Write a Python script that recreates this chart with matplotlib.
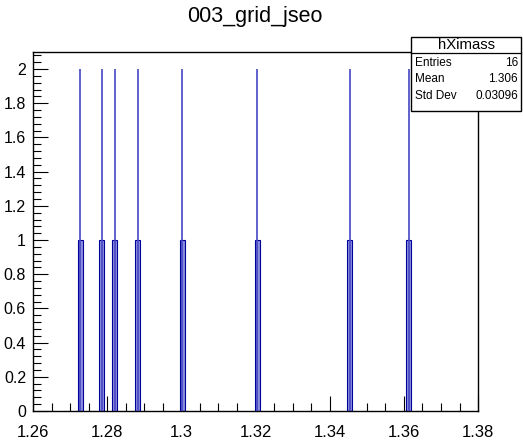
import matplotlib
matplotlib.use('Agg')
import matplotlib.pyplot as plt
from matplotlib.ticker import MultipleLocator
import numpy as np

plt.rcParams['font.family'] = ['Liberation Sans', 'DejaVu Sans']

# peak positions (x), each filled twice
peak_x = [1.2727, 1.2785, 1.2820, 1.2882, 1.3002, 1.3205, 1.3454, 1.3613]
box_counts = [1, 1, 1, 1, 1, 1, 1, 1]
spike_counts = [2, 2, 2, 2, 2, 2, 2, 2]
stats_labels = ['Entries', 'Mean', 'Std Dev']
stats_values = ['16', '1.306', '0.03096']

fig = plt.figure(figsize=(5.23, 4.46), dpi=100)
ax = fig.add_axes([0.0631, 0.0785, 0.851, 0.805])

box_w = 0.0014
ax.bar(peak_x, box_counts, width=box_w, color='#8c8cdc', edgecolor='#000099',
       linewidth=0.8, zorder=2)
ax.vlines(peak_x, 0, spike_counts, color='#4646c4', linewidth=1.2, zorder=3)

ax.set_xlim(1.26, 1.38)
ax.set_ylim(0, 2.1)
ax.xaxis.set_minor_locator(MultipleLocator(0.005))
ax.yaxis.set_minor_locator(MultipleLocator(0.04))
ax.set_xticks(np.arange(1.26, 1.3801, 0.02))
ax.set_xticklabels(['1.26', '1.28', '1.3', '1.32', '1.34', '1.36', '1.38'])
ax.set_yticks(np.arange(0, 2.01, 0.2))
ax.set_yticklabels(['0', '0.2', '0.4', '0.6', '0.8', '1', '1.2', '1.4', '1.6', '1.8', '2'])
ax.tick_params(which='major', direction='in', length=11, width=0.8,
               top=False, right=False)
ax.tick_params(which='minor', direction='in', length=5.5, width=0.8,
               top=False, right=False)
ax.tick_params(axis='x', pad=10, labelsize=12)
ax.tick_params(axis='y', pad=5, labelsize=11.5)
for s in ax.spines.values():
    s.set_linewidth(1.0)

fig.text(0.488, 0.962, '003_grid_jseo', ha='center', va='center', fontsize=15.5)

# stats box
bx0, bx1 = 411 / 523, 521 / 523
by0, by1 = 1 - 111 / 446, 1 - 37 / 446
sep = 1 - 53 / 446
fig.patches.append(plt.Rectangle((bx0, by0), bx1 - bx0, by1 - by0, transform=fig.transFigure,
                                 facecolor='white', edgecolor='black', linewidth=1.0, zorder=5))
fig.lines.append(plt.Line2D([bx0, bx1], [sep, sep], transform=fig.transFigure,
                            color='black', linewidth=0.9, zorder=6))
fig.text((bx0 + bx1) / 2, 1 - 45 / 446, 'hXimass', ha='center', va='center',
         fontsize=10.7, zorder=7)
for i, (lab, val) in enumerate(zip(stats_labels, stats_values)):
    yy = 1 - (63 + i * 16.5) / 446
    fig.text(bx0 + 4 / 523, yy, lab, ha='left', va='center', fontsize=8.5, zorder=7)
    fig.text(bx1 - 3 / 523, yy, val, ha='right', va='center', fontsize=8.5, zorder=7)

fig.savefig('out.png', dpi=100, facecolor='white')
